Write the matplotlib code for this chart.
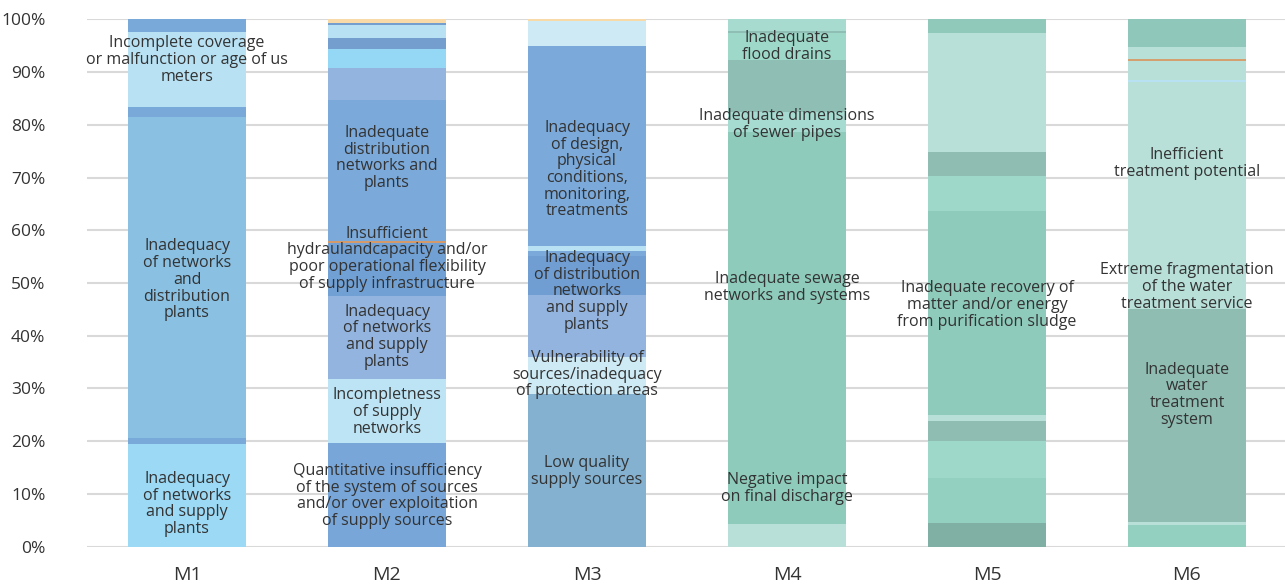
import matplotlib
matplotlib.use("Agg")
import matplotlib.pyplot as plt
import numpy as np

plt.rcParams['font.family'] = ['Open Sans', 'DejaVu Sans']

categories = ["M1", "M2", "M3", "M4", "M5", "M6"]
y_ticks = [0, 10, 20, 30, 40, 50, 60, 70, 80, 90, 100]

# segment sizes (percent), bottom to top
m1_values = [19.5, 1.1, 60.8, 1.9, 14.3, 2.4]
m2_values = [19.6, 12.2, 15.7, 10.0, 0.4, 26.8, 6.1, 3.6, 2.0, 2.57, 0.38, 0.65]
m3_values = [29.0, 7.0, 11.7, 7.4, 1.0, 1.0, 37.8, 4.8, 0.3]
m4_values = [4.3, 74.4, 3.8, 9.8, 5.1, 0.4, 2.2]
m5_values = [4.4, 8.6, 7.0, 3.9, 1.1, 38.7, 6.5, 4.6, 22.6, 2.6]
m6_values = [4.1, 0.6, 40.3, 8.4, 34.8, 0.3, 3.5, 0.5, 2.3, 5.2]

m1_colors = ["#9bd9f5", "#79a9d9", "#8ac0e2", "#79a9d9", "#b8e2f4", "#79a9d9"]
m2_colors = ["#78a6d8", "#bde4f5", "#93b4de", "#70a0d4", "#d49a6a", "#7aa9da",
             "#93b4de", "#94d8f5", "#739ece", "#b8e2f4", "#739ece", "#f8d9a8"]
m3_colors = ["#84b1d0", "#cdeaf5", "#93b4de", "#709dd2", "#7aa9da", "#b8e2f4",
             "#7aa9da", "#cdeaf5", "#f8d9a8"]
m4_colors = ["#b8e0d8", "#8ecbbb", "#a5dbd0", "#8fbfb4", "#9dd8c8", "#8fbfb4", "#a8dbd0"]
m5_colors = ["#80b0a3", "#93d0c0", "#9dd8c8", "#8fbdb2", "#b8e0d8", "#8ecbbb",
             "#9dd8c8", "#8fbdb2", "#b8e0d8", "#90c8ba"]
m6_colors = ["#93d0c0", "#b8e0d8", "#8fbdb2", "#b8e0d8", "#b8e0d8", "#b8e2f4",
             "#b8e0d8", "#d4a070", "#b8e0d8", "#8fc8ba"]

m1_labels = ["Inadequacy\nof networks\nand supply\nplants",
             "Inadequacy\nof networks\nand\ndistribution\nplants",
             "Incomplete coverage\nor malfunction or age of us\nmeters"]
m1_label_y = [8.1, 50.6, 92.3]
m2_labels = ["Quantitative insufficiency\nof the system of sources\nand/or over exploitation\nof supply sources",
             "Incompletness\nof supply\nnetworks",
             "Inadequacy\nof networks\nand supply\nplants",
             "Insufficient\nhydraulandcapacity and/or\npoor operational flexibility\nof supply infrastructure",
             "Inadequate\ndistribution\nnetworks and\nplants"]
m2_label_y = [9.6, 25.5, 39.8, 54.6, 73.7]
m3_labels = ["Low quality\nsupply sources",
             "Vulnerability of\nsources/inadequacy\nof protection areas",
             "Inadequacy\nof distribution\nnetworks\nand supply\nplants",
             "Inadequacy\nof design,\nphysical\nconditions,\nmonitoring,\ntreatments"]
m3_label_y = [14.3, 32.6, 48.4, 71.5]
m4_labels = ["Negative impact\non final discharge",
             "Inadequate sewage\nnetworks and systems",
             "Inadequate dimensions\nof sewer pipes",
             "Inadequate\nflood drains"]
m4_label_y = [11.0, 49.1, 80.1, 94.9]
m5_labels = ["Inadequate recovery of\nmatter and/or energy\nfrom purification sludge"]
m5_label_y = [45.8]
m6_labels = ["Inadequate\nwater\ntreatment\nsystem",
             "Extreme fragmentation\nof the water\ntreatment service",
             "Inefficient\ntreatment potential"]
m6_label_y = [28.8, 49.2, 72.7]

all_values = [m1_values, m2_values, m3_values, m4_values, m5_values, m6_values]
all_colors = [m1_colors, m2_colors, m3_colors, m4_colors, m5_colors, m6_colors]
all_labels = [m1_labels, m2_labels, m3_labels, m4_labels, m5_labels, m6_labels]
all_label_y = [m1_label_y, m2_label_y, m3_label_y, m4_label_y, m5_label_y, m6_label_y]

fig = plt.figure(figsize=(12.85, 5.88), dpi=100)
ax = fig.add_axes([87 / 1285, (588 - 546.7) / 588, 1200 / 1285, (546.7 - 19.3) / 588])

x = np.arange(len(categories))
bar_w = 0.59
for i, (vals, cols) in enumerate(zip(all_values, all_colors)):
    bottoms = np.concatenate([[0], np.cumsum(vals)[:-1]])
    ax.bar(np.full(len(vals), x[i]), vals, bottom=bottoms, width=bar_w,
           color=cols, linewidth=0, zorder=2)
    for txt, yy in zip(all_labels[i], all_label_y[i]):
        ax.text(x[i], yy, txt, ha="center", va="center", fontsize=11.5,
                color="#333333", linespacing=1.06, zorder=3)

ax.set_xlim(-0.5, 5.5)
ax.set_ylim(0, 100)
ax.set_yticks(y_ticks)
ax.set_yticklabels([f"{t}%" for t in y_ticks])
ax.set_xticks(x)
ax.set_xticklabels(categories)
ax.yaxis.grid(True, color="#d9d9d9", linewidth=1.5, zorder=0)
ax.set_axisbelow(True)
for s in ax.spines.values():
    s.set_visible(False)
ax.tick_params(axis="both", length=0, colors="#333333")
ax.tick_params(axis="y", pad=30, labelsize=12.5)
ax.tick_params(axis="x", pad=14, labelsize=14)

fig.savefig("out.png", dpi=100)
